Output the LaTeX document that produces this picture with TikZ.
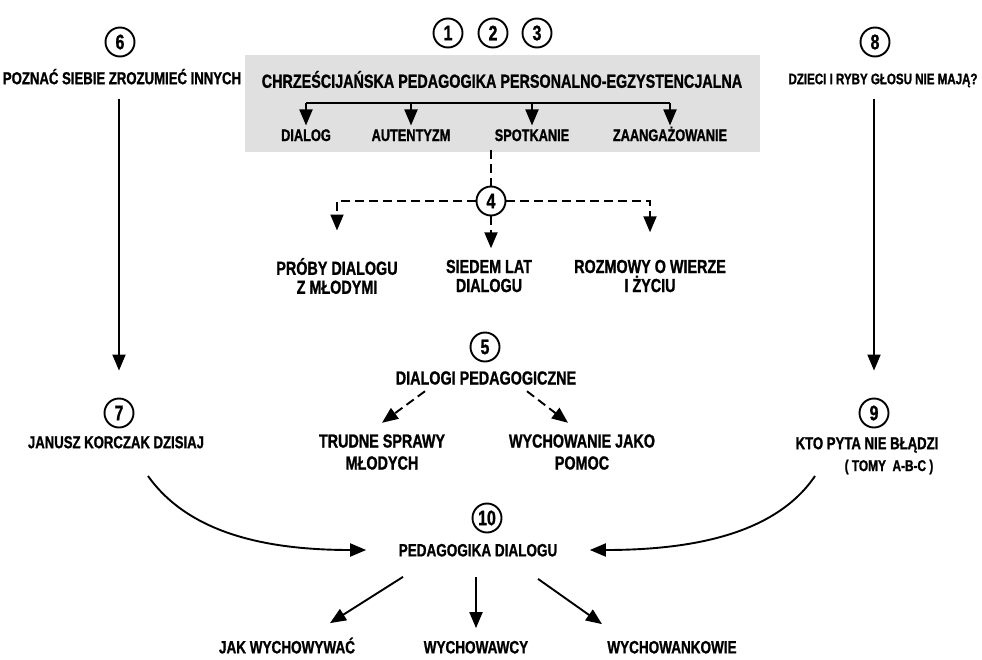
\documentclass[tikz,border=0pt]{standalone}
\usepackage{fontspec}
\setmainfont{Liberation Sans}[FakeStretch=0.76, BoldFeatures={FakeBold=1.1}]
\usetikzlibrary{arrows.meta}

\tikzset{
    nr/.style={draw, circle, line width=1.9pt, minimum size=29pt, inner sep=0pt,
        font=\bfseries\fontsize{21}{21}\selectfont},
    txtbig/.style={font=\bfseries\fontsize{18.9}{20}\selectfont, text height=13.5pt, text depth=0pt},
    txtsml/.style={font=\bfseries\fontsize{16.8}{18}\selectfont, text height=12pt, text depth=0pt},
    txtside/.style={font=\bfseries\fontsize{17.3}{18}\selectfont, text height=12.4pt, text depth=0pt},
    txttwo/.style={font=\bfseries\fontsize{18.9}{19}\selectfont, align=center},
    txtbot/.style={font=\bfseries\fontsize{17.8}{19}\selectfont, text height=12.7pt, text depth=0pt},
    arr/.style={line width=1.9pt, -{Triangle[width=13pt,length=16pt]}},
    dsh/.style={dash pattern=on 9pt off 5pt},
}

\begin{document}
\begin{tikzpicture}[x=1pt, y=-1pt]
    \useasboundingbox (0,0) rectangle (982,659);

    \fill[black!12] (245,55) rectangle (760,152);

    \node[nr] (n1) at (448,33) {1};
    \node[nr] (n2) at (493,33) {2};
    \node[nr] (n3) at (537,33) {3};
    \node[txtbig] (chp) at (502,81) {CHRZEŚCIJAŃSKA PEDAGOGIKA PERSONALNO-EGZYSTENCJALNA};

    \node[txtsml] (dialog) at (306,135) {DIALOG};
    \node[txtsml] (autent) at (411,135) {AUTENTYZM};
    \node[txtsml] (spotk) at (532,135) {SPOTKANIE};
    \node[txtsml] (zaang) at (670,135) {ZAANGAŻOWANIE};
    \coordinate (bar) at (0,103);
    \draw[line width=1.9pt] (dialog |- bar) -- (zaang |- bar);
    \foreach \n in {dialog,autent,spotk,zaang}
        \draw[arr] (\n |- bar) -- (\n.north);

    \node[nr] (n4) at (491,201) {4};
    \coordinate (boxb) at (491,150);
    \draw[line width=1.9pt, dsh] (boxb) -- (n4);
    \node[txttwo] (proby) at (337,276) {PRÓBY DIALOGU\\Z MŁODYMI};
    \node[txttwo] (siedem) at (489,276) {SIEDEM LAT\\DIALOGU};
    \node[txttwo] (rozm) at (650,276) {ROZMOWY O WIERZE\\I ŻYCIU};
    \draw[arr, dsh, shorten >=24pt] (n4) -| (proby);
    \draw[arr, dsh, shorten >=24pt] (n4) -| (rozm);
    \draw[arr, dsh, shorten >=8pt] (n4) -- (siedem.north -| n4);

    \node[nr] (n5) at (485,347) {5};
    \node[txttwo] (dped) at (486,378) {DIALOGI PEDAGOGICZNE};
    \node[txttwo, font=\bfseries\fontsize{18.9}{22}\selectfont] (trudne) at (382,452) {TRUDNE SPRAWY\\MŁODYCH};
    \node[txttwo, font=\bfseries\fontsize{18.9}{22}\selectfont] (wjako) at (582,452) {WYCHOWANIE JAKO\\POMOC};
    \draw[arr, dsh] ([xshift=-61pt,yshift=-3pt]dped.south) -- ([yshift=8pt]trudne.north);
    \draw[arr, dsh] ([xshift=41pt,yshift=-3pt]dped.south) -- ([xshift=-14pt,yshift=8pt]wjako.north);

    \node[nr] (n6) at (120,42) {6};
    \node[txtside] (poznac) at (122,78) {POZNAĆ SIEBIE ZROZUMIEĆ INNYCH};
    \node[nr] (n7) at (119,413) {7};
    \node[txtside] (janusz) at (116,442) {JANUSZ KORCZAK DZISIAJ};
    \draw[arr, shorten <=11pt, shorten >=27pt] (poznac.south -| n7) -- (n7);

    \node[nr] (n8) at (875,42) {8};
    \node[txtside, font=\bfseries\fontsize{15.2}{18}\selectfont] (dzieci) at (883,78) {DZIECI I RYBY GŁOSU NIE MAJĄ?};
    \node[nr] (n9) at (874,413) {9};
    \node[txtside] (kto) at (867,443) {KTO PYTA NIE BŁĄDZI};
    \node[font=\bfseries\fontsize{15.6}{16}\selectfont] (tomy) at (889,467) {( TOMY~~A-B-C )};
    \draw[arr, shorten <=11pt, shorten >=27pt] (dzieci.south -| n9) -- (n9);

    \node[nr] (n10) at (487,518) {10};
    \node[txtbot] (pdial) at (478,550) {PEDAGOGIKA DIALOGU};
    \node[txtbot] (jak) at (287,647) {JAK WYCHOWYWAĆ};
    \node[txtbot] (wych) at (476,647) {WYCHOWAWCY};
    \node[txtbot] (wnk) at (672,647) {WYCHOWANKOWIE};

    \coordinate (c7) at (148,476);
    \coordinate (c9) at (815,476);
    \draw[arr, shorten >=29pt] (c7) .. controls (190,535) and (270,550) .. (pdial.west);
    \draw[arr, shorten >=29pt] (c9) .. controls (775,535) and (690,550) .. (pdial.east);

    \draw[arr] ([xshift=-75pt,yshift=-17pt]pdial.south) -- ([xshift=43pt,yshift=14pt]jak.north);
    \draw[arr, shorten <=17pt, shorten >=9pt] (pdial.south -| wych) -- (wych.north);
    \draw[arr] ([xshift=60pt,yshift=-19pt]pdial.south) -- ([xshift=-70pt,yshift=13pt]wnk.north);

\end{tikzpicture}
\end{document}
